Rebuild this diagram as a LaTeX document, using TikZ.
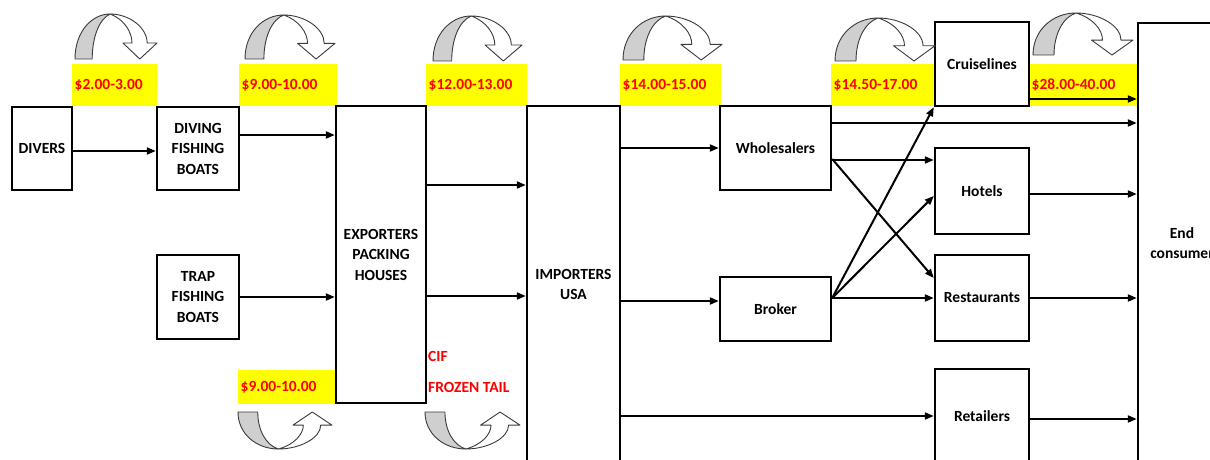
\documentclass[tikz,border=0pt]{standalone}
\usepackage{fontspec}
\setmainfont{Carlito}
\usetikzlibrary{arrows.meta,calc}
\definecolor{pricered}{HTML}{FF0000}
\definecolor{priceyel}{HTML}{FFFF00}
\definecolor{cagrayfill}{HTML}{CFCFCF}
\definecolor{caline}{HTML}{3A3A3A}
\tikzset{
  curvarr/.pic={
    \draw[cagray] (0,1) .. controls (0,0.4) and (0.2,0) .. (0.43,0)
      .. controls (0.3,0.1) and (0.21,0.5) .. (0.21,1) -- cycle;
    \draw[cawhite] (0.43,0) .. controls (0.66,0) and (0.88,0.3) .. (0.88,0.645)
      -- (1,0.645) -- (0.79,1) -- (0.585,0.645) -- (0.695,0.645)
      .. controls (0.695,0.4) and (0.6,0.12) .. (0.43,0) -- cycle;
  }
}
\begin{document}
\begin{tikzpicture}[x=1pt,y=-1pt,
  font=\fontsize{15.5}{20.5}\selectfont\bfseries,
  box/.style={draw, line width=2.4pt, rectangle, align=center, inner sep=0pt},
  arr/.style={line width=2pt, -{Triangle[length=9pt,width=7pt]}},
  price/.style={fill=priceyel, text=pricered, anchor=north west, inner xsep=2.5pt, inner ysep=0pt, align=left},
  redlbl/.style={text=pricered, anchor=base west, inner sep=0pt},
  cagray/.style={fill=cagrayfill, draw=caline, line width=0.9pt, line join=round},
  cawhite/.style={fill=white, draw=caline, line width=0.9pt, line join=round}
]
\useasboundingbox (0,0) rectangle (1210,460);
\clip (0,0) rectangle (1210,460);

% price labels
\node[price, text width=80pt, minimum height=42pt] (p1) at (72,64) {\$2.00-3.00};
\node[price, text width=93pt, minimum height=42pt] (p2) at (239,64) {\$9.00-10.00};
\node[price, text width=96pt, minimum height=42pt] (p3) at (426,64) {\$12.00-13.00};
\node[price, text width=96pt, minimum height=42pt] (p4) at (620,64) {\$14.00-15.00};
\node[price, text width=99pt, minimum height=42pt] (p5) at (831,64) {\$14.50-17.00};
\node[price, text width=104pt, minimum height=42pt] (p6) at (1029,64) {\$28.00-40.00};
\node[price, text width=93pt, minimum height=34pt] (p7) at (238,370) {\$9.00-10.00};

% boxes
\node[box, minimum width=60pt, minimum height=83pt] (divers) at (42,148.5) {DIVERS};
\node[box, minimum width=82pt, minimum height=83pt] (diving) at (198,148.5) {DIVING\\FISHING\\BOATS};
\node[box, minimum width=82pt, minimum height=84pt] (trap) at (198,297) {TRAP\\FISHING\\BOATS};
\node[box, minimum width=90pt, minimum height=297pt] (exp) at (381,254.5) {EXPORTERS\\PACKING\\HOUSES};
\node[box, minimum width=93pt, minimum height=357pt] (imp) at (573.5,284.5) {IMPORTERS\\USA};
\node[box, minimum width=111pt, minimum height=84pt] (whole) at (775.5,148) {Wholesalers};
\node[box, minimum width=111pt, minimum height=64pt] (broker) at (775.5,309) {Broker};
\node[box, minimum width=94pt, minimum height=84pt] (cruise) at (982,64) {Cruiselines};
\node[box, minimum width=94pt, minimum height=86pt] (hotels) at (982,191) {Hotels};
\node[box, minimum width=94pt, minimum height=86pt] (rest) at (982,298) {Restaurants};
\node[box, minimum width=94pt, minimum height=94pt] (retail) at (982,416) {Retailers};
\node[box, minimum width=88pt, minimum height=440pt] (endc) at (1182,243) {End\\consumer};

% red labels
\node[redlbl] (cif) at (428,361) {CIF};
\node[redlbl] (frozen) at (428,392) {FROZEN TAIL};

% connectors
\draw[arr] ([yshift=-2.5pt]divers.east) -- ([yshift=-2.5pt]divers.east -| diving.west);
\draw[arr] ([yshift=13.5pt]diving.east) -- ([yshift=13.5pt]diving.east -| exp.west);
\draw[arr] (trap.east) -- (trap.east -| exp.west);
\draw[arr] ([yshift=69.5pt]exp.east) -- ([yshift=69.5pt]exp.east -| imp.west);
\draw[arr] ([yshift=-41.5pt]exp.east) -- ([yshift=-41.5pt]exp.east -| imp.west);
\draw[arr] (whole.west -| imp.east) -- (whole.west);
\draw[arr] ([yshift=8pt]broker.west -| imp.east) -- ([yshift=8pt]broker.west);
\draw[arr] (retail.west -| imp.east) -- (retail.west);
\draw[arr] ([yshift=25pt]whole.east) -- ([yshift=25pt]whole.east -| endc.west);
\draw[arr] ([yshift=-12pt]whole.east) -- ([yshift=-12pt]whole.east -| hotels.west);
\draw[arr] ([yshift=-11pt]whole.east) -- ([yshift=20pt]rest.west);
\draw[arr] ([yshift=11pt]broker.east) -- (rest.west);
\draw[arr] ([yshift=11pt]broker.east) -- ([yshift=-5pt]hotels.west);
\draw[arr] ([yshift=11pt]broker.east) -- (cruise.south west);
\draw[arr] ([yshift=-35pt]cruise.east) -- ([yshift=-35pt]cruise.east -| endc.west);
\draw[arr] ([yshift=-3pt]hotels.east) -- ([yshift=-3pt]hotels.east -| endc.west);
\draw[arr] (rest.east) -- (rest.east -| endc.west);
\draw[arr] ([yshift=-3pt]retail.east) -- ([yshift=-3pt]retail.east -| endc.west);

% curved block arrows
\pic[xscale=82, yscale=45] at (75,14) {curvarr};
\pic[xscale=90, yscale=44] at (245,15) {curvarr};
\pic[xscale=89, yscale=45] at (433,16) {curvarr};
\pic[xscale=99, yscale=44] at (623,16) {curvarr};
\pic[xscale=100, yscale=43] at (835,18) {curvarr};
\pic[xscale=100, yscale=42] at (1033,13) {curvarr};
\pic[xscale=94, yscale=-37] at (238,449) {curvarr};
\pic[xscale=95, yscale=-37] at (425,449) {curvarr};
\end{tikzpicture}
\end{document}
